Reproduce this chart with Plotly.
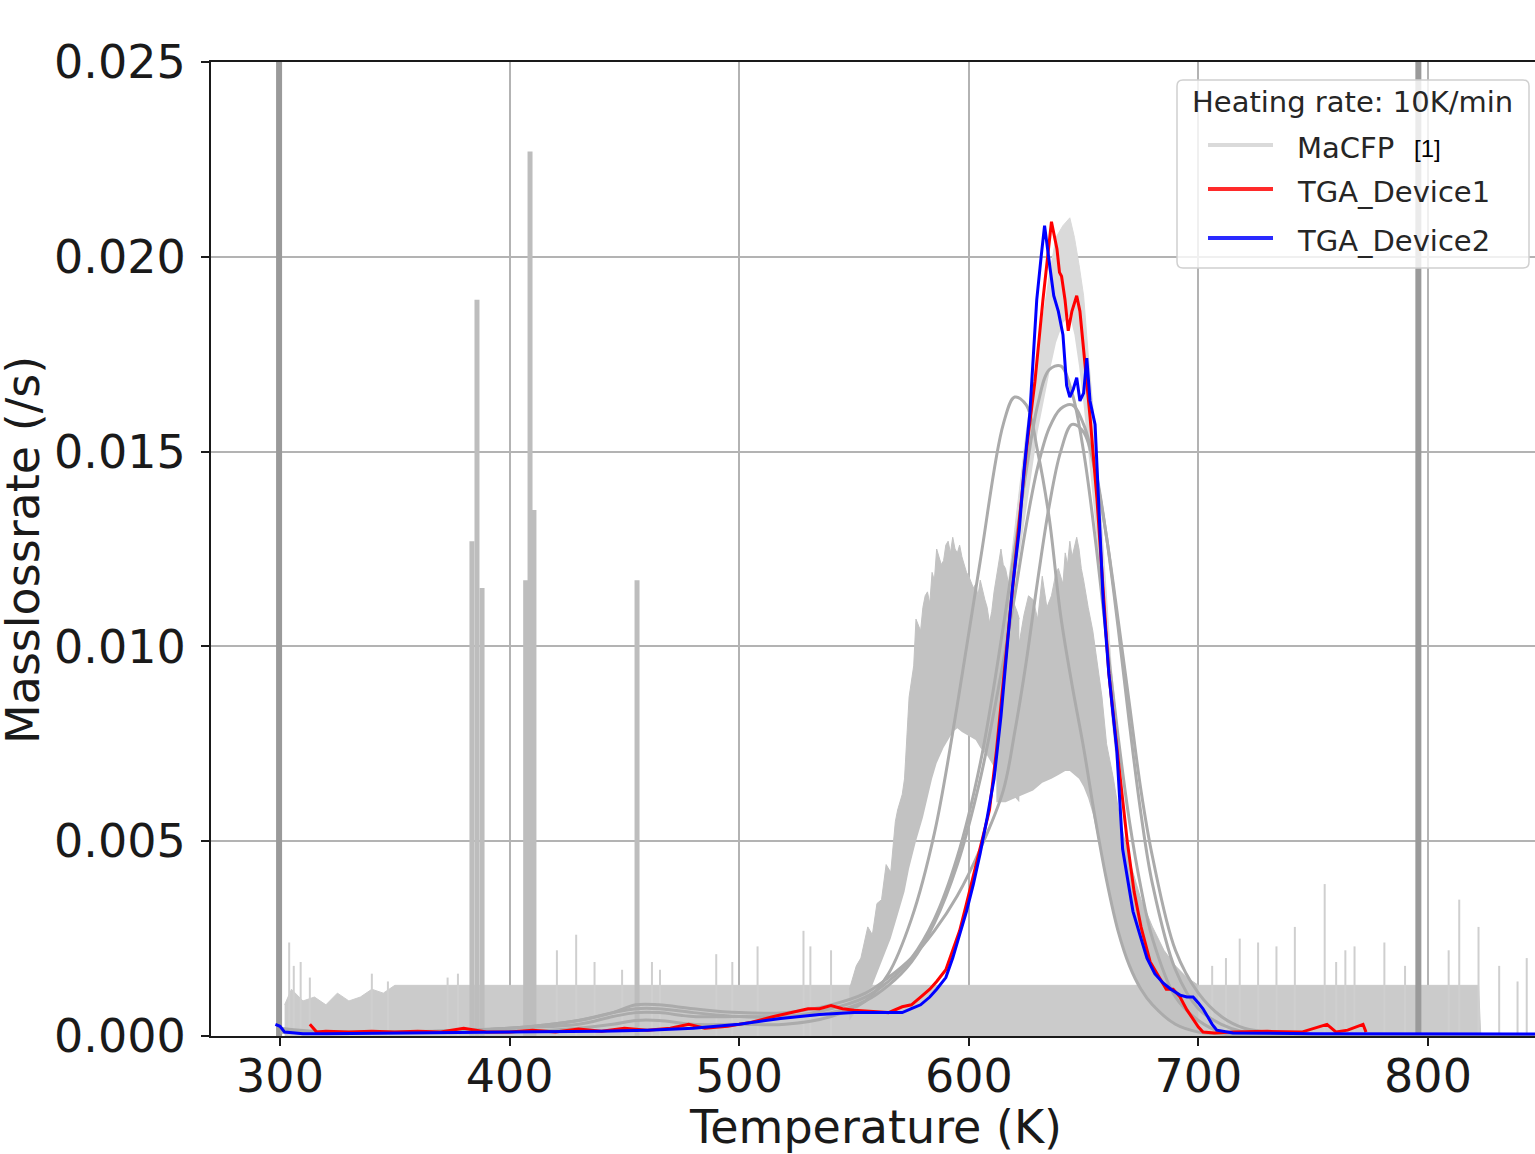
import plotly.graph_objects as go

# ---------------- data ----------------
# TGA_Device1 (red)
red_T = [313, 316, 320, 330, 340, 350, 360, 370, 380, 390, 400, 410, 420, 430, 440, 450, 460,
         470, 478, 485, 495, 505, 515, 522, 530, 535, 540, 545, 550, 560, 565, 571, 575, 579,
         583, 586, 590, 593, 596, 599, 602, 605, 609, 612, 616, 619, 622, 625, 628.8, 632.3,
         636, 638.4, 639.5, 640.4, 641.9, 643.3, 644.9, 647, 648.4, 650, 652.8, 655.8, 658.5,
         661, 663, 666, 669, 672, 675, 679, 683, 686, 689, 692, 695, 698, 700, 702, 707, 715,
         730, 745, 756, 760, 765, 771.7, 773]
red_v = [0.0003, 0.0001, 0.00012, 0.0001, 0.00012, 0.0001, 0.00012, 0.0001, 0.0002, 0.0001,
         0.0001, 0.00015, 0.0001, 0.00018, 0.00012, 0.0002, 0.00015, 0.0002, 0.0003, 0.0002,
         0.00025, 0.00035, 0.0005, 0.0006, 0.0007, 0.0007, 0.00078, 0.0007, 0.00066, 0.00062,
         0.0006, 0.00075, 0.0008, 0.001, 0.0012, 0.0014, 0.0017, 0.0022, 0.0027, 0.0034, 0.0041,
         0.0048, 0.0058, 0.0073, 0.0097, 0.0115, 0.0132, 0.0150, 0.0168, 0.0189, 0.0209, 0.0202,
         0.0196, 0.0195, 0.0189, 0.0181, 0.0186, 0.0190, 0.0186, 0.0176, 0.0159, 0.0138, 0.0114,
         0.0093, 0.0082, 0.0066, 0.0050, 0.0037, 0.0028, 0.0019, 0.0015, 0.0012, 0.0012, 0.0010,
         0.00067, 0.0004, 0.00023, 0.0001, 0.00008, 0.0001, 0.00012, 0.0001, 0.00030, 0.0001,
         0.00015, 0.00030, 0.0001]

# TGA_Device2 (blue)
blue_T = [298, 300, 302, 310, 320, 340, 360, 380, 400, 420, 440, 460, 480, 500, 518, 535, 550,
          560, 571, 575, 579, 583, 586, 590, 593, 596, 599, 602, 605, 608, 611, 614, 616.6, 619,
          622, 624, 626.6, 629.6, 631.5, 633, 635.4, 637, 639, 641, 642.6, 644, 645.5, 647,
          648.4, 650, 651.4, 652.8, 655, 656.8, 658.5, 661, 664.5, 667, 671.5, 674.5, 677.6,
          681, 684.6, 688, 692, 695, 697.7, 700, 702, 704, 706, 708, 715, 750, 800, 847]
blue_v = [0.0003, 0.00025, 0.0001, 0.00006, 0.00006, 0.00007, 0.00008, 0.00008, 0.0001, 0.0001,
          0.00012, 0.00015, 0.0002, 0.0003, 0.00045, 0.00055, 0.0006, 0.0006, 0.0006, 0.0007,
          0.0008, 0.001, 0.0012, 0.0015, 0.002, 0.0026, 0.0032, 0.0039, 0.0047, 0.0056, 0.0066,
          0.0082, 0.0099, 0.0115, 0.0130, 0.0145, 0.0160, 0.0189, 0.0200, 0.0208, 0.0197, 0.0190,
          0.0186, 0.0180, 0.0167, 0.0164, 0.0166, 0.0169, 0.0163, 0.0165, 0.0174, 0.0163, 0.0157,
          0.0135, 0.0112, 0.0093, 0.0073, 0.0048, 0.0032, 0.0026, 0.0020, 0.0016, 0.00136, 0.0012,
          0.00105, 0.0010, 0.0010, 0.00085, 0.0007, 0.0005, 0.0003, 0.00015, 0.00008, 0.00006,
          0.00005, 0.00005]

# MaCFP reference data: smooth curves
g_T = [300, 320, 350, 400, 430, 445, 455, 465, 480, 500, 520, 540, 555, 565, 575, 585, 595, 605,
       615, 620, 625, 630, 635, 640, 645, 650, 655, 660, 665, 670, 675, 680, 690, 700, 710, 720,
       740, 780, 847]
g1_v = [0.0002, 0.0001, 0.0001, 0.0001, 0.0002, 0.0003, 0.0004, 0.0004, 0.0003, 0.0003, 0.0003,
        0.0005, 0.0009, 0.0016, 0.0030, 0.0052, 0.0085, 0.0122, 0.0157, 0.0164, 0.0162, 0.0150,
        0.0133, 0.0108, 0.0090, 0.0074, 0.0056, 0.0040, 0.0027, 0.0018, 0.0012, 0.0008, 0.0003,
        0.0001, 0.00005, 0, 0, 0, 0]
g2_v = [0.0001, 0.0001, 0.0001, 0.0002, 0.0004, 0.0006, 0.0007, 0.0007, 0.0006, 0.0005, 0.0005,
        0.0007, 0.0010, 0.0014, 0.0020, 0.0030, 0.0046, 0.0070, 0.0105, 0.0125, 0.0145, 0.0162,
        0.0171, 0.0172, 0.0165, 0.0150, 0.0128, 0.0102, 0.0077, 0.0055, 0.0038, 0.0025, 0.0010,
        0.0004, 0.0001, 0.00005, 0, 0, 0]
g3_v = [0.0001, 0.0001, 0.0001, 0.0002, 0.0004, 0.0006, 0.0008, 0.0008, 0.0007, 0.0006, 0.0006,
        0.0008, 0.0011, 0.0015, 0.0020, 0.0027, 0.0036, 0.0048, 0.0063, 0.0078, 0.0096, 0.0117,
        0.0136, 0.0150, 0.0157, 0.0155, 0.0145, 0.0128, 0.0107, 0.0085, 0.0063, 0.0046, 0.0022,
        0.0011, 0.0005, 0.0002, 0.00005, 0, 0]
g4_v = [0.0001, 0.0001, 0.0001, 0.0002, 0.0003, 0.0005, 0.0006, 0.0006, 0.0005, 0.0005, 0.0005,
        0.0006, 0.0009, 0.0013, 0.0019, 0.0029, 0.0044, 0.0066, 0.0096, 0.0113, 0.0131, 0.0146,
        0.0156, 0.0161, 0.0162, 0.0157, 0.0146, 0.0128, 0.0105, 0.0080, 0.0057, 0.0039, 0.0017,
        0.0007, 0.0003, 0.0001, 0, 0, 0]

# MaCFP noisy data, drawn as min/max envelopes of the noise
base_T = [302, 305, 310, 315, 320, 325, 330, 335, 340, 345, 350, 360, 380, 400, 450, 500, 550,
          600, 650, 700, 750, 800, 822, 823]
base_hi = [0.0008, 0.0012, 0.0009, 0.0010, 0.0008, 0.0011, 0.0009, 0.0010, 0.0012, 0.0011,
           0.0013, 0.0013, 0.0013, 0.0013, 0.0013, 0.0013, 0.0013, 0.0013, 0.0013, 0.0013,
           0.0013, 0.0013, 0.0013, 0]

n1_hiT = [548, 551, 553, 556, 558, 560, 562, 564, 566, 568, 569, 571, 572, 573, 574, 576, 577,
          579, 580, 581, 582, 583, 584, 585, 586, 588, 589, 590, 591, 592, 593, 594, 595, 596,
          597, 599, 600, 602, 603, 604, 605, 607, 608, 609, 610, 611, 612, 613, 614, 615, 616,
          618, 619, 621, 622]
n1_hi = [0.0012, 0.0018, 0.0020, 0.0028, 0.0026, 0.0034, 0.0035, 0.0044, 0.0042, 0.0055, 0.0058,
         0.0062, 0.0066, 0.0078, 0.0087, 0.0095, 0.0107, 0.0104, 0.0110, 0.0113, 0.0114, 0.0111,
         0.0119, 0.0117, 0.0125, 0.0121, 0.0122, 0.0126, 0.0127, 0.0124, 0.0128, 0.0125, 0.0124,
         0.0126, 0.0123, 0.0119, 0.0118, 0.0115, 0.0116, 0.0113, 0.0117, 0.0112, 0.0110, 0.0106,
         0.0109, 0.0114, 0.0118, 0.0122, 0.0125, 0.0121, 0.0120, 0.0114, 0.0112, 0.0109, 0.0107]
n1_loT = [548, 553, 558, 562, 566, 569, 572, 574, 577, 580, 582, 584, 586, 589, 591, 593, 595,
          597, 600, 603, 605, 608, 610, 612, 614, 616, 619, 622]
n1_lo = [0.0004, 0.0008, 0.0013, 0.0019, 0.0025, 0.0031, 0.0037, 0.0043, 0.0050, 0.0056, 0.0061,
         0.0066, 0.0070, 0.0074, 0.0076, 0.0078, 0.0079, 0.0078, 0.0077, 0.0076, 0.0074, 0.0072,
         0.0070, 0.0068, 0.0066, 0.0064, 0.0062, 0.0060]

n2_hiT = [612, 614, 616, 618, 620, 622, 624, 626, 628, 630, 632, 634, 636, 638, 639, 641, 642,
          643, 644, 645, 646, 647, 648, 649, 650, 651, 652, 654, 656, 658, 660, 663, 666, 670,
          675, 680, 685, 690, 695, 700]
n2_hi = [0.0095, 0.0104, 0.0112, 0.0103, 0.0106, 0.0101, 0.0108, 0.0113, 0.0112, 0.0107, 0.0118,
         0.0110, 0.0113, 0.0119, 0.0120, 0.0116, 0.0124, 0.0121, 0.0127, 0.0123, 0.0126, 0.0128,
         0.0125, 0.0120, 0.0117, 0.0113, 0.0110, 0.0104, 0.0095, 0.0087, 0.0075, 0.0066, 0.0055,
         0.0045, 0.0035, 0.0028, 0.0022, 0.0018, 0.0015, 0.0013]
n2_loT = [612, 616, 620, 624, 628, 632, 636, 639, 642, 644, 646, 648, 650, 652, 654, 656, 658,
          660, 663, 666, 670, 675, 680, 685, 690, 695, 700]
n2_lo = [0.0060, 0.0060, 0.0061, 0.0062, 0.0063, 0.0065, 0.0066, 0.0067, 0.0068, 0.0068, 0.0067,
         0.0066, 0.0064, 0.0061, 0.0057, 0.0051, 0.0045, 0.0040, 0.0032, 0.0025, 0.0018, 0.0012,
         0.0008, 0.0005, 0.0003, 0.0002, 0.0001]

l_T = [610, 615, 620, 625, 630, 635, 638, 641, 644, 646, 648, 650, 652, 655, 658, 662, 666]
l_hi = [0.0085, 0.0105, 0.0130, 0.0155, 0.0175, 0.0195, 0.0205, 0.0208, 0.0210, 0.0205, 0.0198,
        0.0190, 0.0175, 0.0155, 0.0130, 0.0095, 0.0070]
l_lo = [0.0075, 0.0092, 0.0115, 0.0135, 0.0155, 0.0170, 0.0178, 0.0183, 0.0185, 0.0180, 0.0172,
        0.0162, 0.0150, 0.0132, 0.0112, 0.0082, 0.0060]

# single-sample spikes in the MaCFP data
big_spike_T = [299.6, 795.8]
big_spike_h = [0.03, 0.03]
tall_spike_T = [383.6, 385.8, 388.0, 407.0, 408.9, 410.6, 455.5]
tall_spike_h = [0.0127, 0.0189, 0.0115, 0.0117, 0.0227, 0.0135, 0.0117]
small_spike_T = [304, 306, 309, 313, 340, 347, 373, 377.5, 420.6, 429, 437, 449, 462, 465.5,
                 490, 497, 508, 528, 531, 540, 706, 712, 718, 726, 734, 742, 755, 760, 764, 768,
                 781, 790, 809, 813.6, 822, 831, 839, 843]
small_spike_h = [0.0024, 0.0018, 0.0019, 0.0015, 0.0016, 0.0014, 0.0015, 0.0016, 0.0022, 0.0026,
                 0.0019, 0.0017, 0.0019, 0.0017, 0.0021, 0.0019, 0.0023, 0.0027, 0.0023, 0.0022,
                 0.0018, 0.0020, 0.0025, 0.0024, 0.0023, 0.0028, 0.0039, 0.0019, 0.0022, 0.0023,
                 0.0024, 0.0018, 0.0022, 0.0035, 0.0028, 0.0018, 0.0014, 0.0020]

legend_title = "Heating rate: 10K/min"
legend_names = ["MaCFP", "TGA_Device1", "TGA_Device2"]
legend_colors = ["#dadada", "#ff2a2a", "#2a2aff"]

FONT = "DejaVu Sans"
W, H = 1535, 1154
L, R, T, B = 211, 1535, 62, 1036


def px_x(p):
    return (p - L) / (R - L)


def px_y(p):
    return (B - p) / (B - T)


def spikes(xs, hs):
    x, y = [], []
    for t, h in zip(xs, hs):
        x += [t, t, None]
        y += [0, h, None]
    return x, y


def band(fig, lo_x, lo, hi_x, hi, color):
    fig.add_trace(go.Scatter(x=lo_x, y=lo, mode="lines", line=dict(width=0),
                             hoverinfo="skip", showlegend=False))
    fig.add_trace(go.Scatter(x=hi_x, y=hi, mode="lines", line=dict(width=1, color=color),
                             fill="tonexty", fillcolor=color, hoverinfo="skip", showlegend=False))


fig = go.Figure()

# baseline noise
fig.add_trace(go.Scatter(x=base_T, y=base_hi, mode="lines", line=dict(width=1, color="#cbcbcb"),
                         fill="tozeroy", fillcolor="#cbcbcb", showlegend=False))
band(fig, l_T, l_lo, l_T, l_hi, "#dadada")
band(fig, n1_loT, n1_lo, n1_hiT, n1_hi, "#c2c2c2")
band(fig, n2_loT, n2_lo, n2_hiT, n2_hi, "#c2c2c2")

sx, sy = spikes(small_spike_T, small_spike_h)
fig.add_trace(go.Scatter(x=sx, y=sy, mode="lines", line=dict(width=2, color="#cfcfcf"),
                         showlegend=False))
sx, sy = spikes(tall_spike_T, tall_spike_h)
fig.add_trace(go.Scatter(x=sx, y=sy, mode="lines", line=dict(width=5, color="#bdbdbd"),
                         showlegend=False))
sx, sy = spikes(big_spike_T, big_spike_h)
fig.add_trace(go.Scatter(x=sx, y=sy, mode="lines", line=dict(width=6, color="#9a9a9a"),
                         showlegend=False))

for gv in [g1_v, g2_v, g3_v, g4_v]:
    fig.add_trace(go.Scatter(x=g_T, y=gv, mode="lines", line=dict(width=3, color="#ababab"),
                             line_shape="spline", showlegend=False))

fig.add_trace(go.Scatter(x=red_T, y=red_v, mode="lines", name="TGA_Device1",
                         line=dict(width=3, color="#ff0000"), showlegend=False))
fig.add_trace(go.Scatter(x=blue_T, y=blue_v, mode="lines", name="TGA_Device2",
                         line=dict(width=3, color="#0000ff"), showlegend=False))

# hand-made legend box (matplotlib style)
x0, x1, y0, y1, r = 1177, 1529, 80, 268, 6
path = (f"M {px_x(x0 + r)} {px_y(y0)} L {px_x(x1 - r)} {px_y(y0)} "
        f"Q {px_x(x1)} {px_y(y0)} {px_x(x1)} {px_y(y0 + r)} L {px_x(x1)} {px_y(y1 - r)} "
        f"Q {px_x(x1)} {px_y(y1)} {px_x(x1 - r)} {px_y(y1)} L {px_x(x0 + r)} {px_y(y1)} "
        f"Q {px_x(x0)} {px_y(y1)} {px_x(x0)} {px_y(y1 - r)} L {px_x(x0)} {px_y(y0 + r)} "
        f"Q {px_x(x0)} {px_y(y0)} {px_x(x0 + r)} {px_y(y0)} Z")
shapes = [dict(type="path", path=path, xref="paper", yref="paper",
               fillcolor="rgba(255,255,255,0.8)", line=dict(color="#d0d0d0", width=1.5))]
annotations = [dict(text=legend_title, x=px_x(1352), y=px_y(102), xref="paper", yref="paper",
                    showarrow=False, xanchor="center", yanchor="middle",
                    font=dict(family=FONT, size=29, color="#262626"))]
row_y = [145, 189, 238]
for name, col, ry in zip(legend_names, legend_colors, row_y):
    shapes.append(dict(type="line", xref="paper", yref="paper", x0=px_x(1208), x1=px_x(1273),
                       y0=px_y(ry), y1=px_y(ry), line=dict(color=col, width=4)))
    annotations.append(dict(text=name, x=px_x(1295), y=px_y(ry + 3), xref="paper", yref="paper",
                            showarrow=False, xanchor="left", yanchor="middle",
                            font=dict(family=FONT, size=29, color="#262626")))
annotations.append(dict(text="[1]", x=px_x(1412), y=px_y(148), xref="paper", yref="paper",
                        showarrow=False, xanchor="left", yanchor="middle",
                        font=dict(family="Liberation Sans", size=24, color="#000000")))

# axis titles placed as in the reference
annotations.append(dict(text="Temperature (K)", x=px_x(875), y=px_y(1127), xref="paper",
                        yref="paper", showarrow=False, xanchor="center", yanchor="middle",
                        font=dict(family=FONT, size=46, color="#1a1a1a")))
annotations.append(dict(text="Masslossrate (/s)", x=px_x(23), y=px_y(550), xref="paper",
                        yref="paper", showarrow=False, xanchor="center", yanchor="middle",
                        textangle=-90, font=dict(family=FONT, size=46, color="#1a1a1a")))

axis_common = dict(showline=True, linecolor="#1a1a1a", linewidth=2, ticks="outside",
                   ticklen=8, tickwidth=2, tickcolor="#1a1a1a", showgrid=True,
                   gridcolor="#b3b3b3", gridwidth=2, zeroline=False, automargin=False,
                   tickfont=dict(family=FONT, size=46, color="#1a1a1a"))

fig.update_layout(
    width=W, height=H, template="none",
    paper_bgcolor="white", plot_bgcolor="white",
    margin=dict(l=L, r=W - R, t=T, b=H - B, pad=0),
    showlegend=False,
    shapes=shapes, annotations=annotations,
    xaxis=dict(range=[269.95, 846.6], tickvals=[300, 400, 500, 600, 700, 800],
               mirror=True, ticklabelstandoff=-9, **axis_common),
    yaxis=dict(range=[0, 0.025], tickvals=[0, 0.005, 0.01, 0.015, 0.02, 0.025],
               tickformat=".3f", ticklabelstandoff=6, **axis_common),
)

# drop the browser's default page margin so the figure sits at the window's corner
fig.write_html("out.html", config={"displayModeBar": False},
               post_script="document.body.style.margin='0';document.body.style.overflow='hidden';")
